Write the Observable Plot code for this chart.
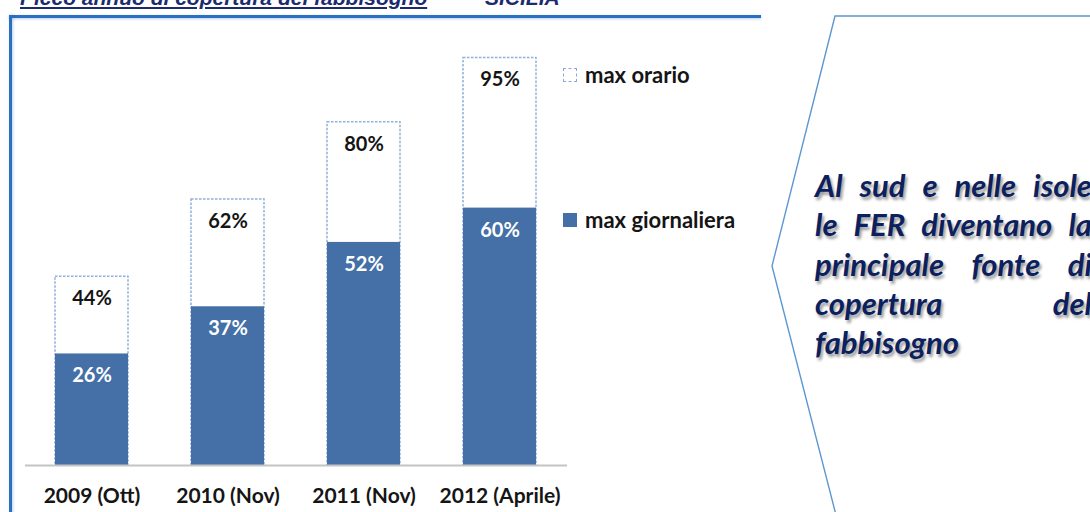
<!DOCTYPE html>
<html>
<head>
<meta charset="utf-8">
<script src="https://cdn.jsdelivr.net/npm/d3@7"></script>
<script src="https://cdn.jsdelivr.net/npm/@observablehq/plot@0.6"></script>
<style>
  html, body { margin: 0; padding: 0; background: #fff; }
  #page { position: relative; width: 1090px; height: 512px; overflow: hidden; background: #fff; font-family: Lato, "Open Sans", sans-serif; }
  .title { position: absolute; top: -13px; font: italic bold 21px/21px "Liberation Sans", Arial, sans-serif; color: #1c2b6e; white-space: nowrap; }
  #frameTop { position: absolute; left: 9px; top: 15px; width: 752px; height: 3px; background: #2a6fc0; box-shadow: 0 1px 3px rgba(42,111,192,0.35); }
  #frameLeft { position: absolute; left: 9px; top: 15px; width: 3px; height: 520px; background: #2a6fc0; box-shadow: 1px 0 3px rgba(42,111,192,0.35); }
  #chart { position: absolute; left: 0; top: 0; }
  .leg { position: absolute; left: 563px; display: flex; align-items: center; font: bold 22px Lato, sans-serif; color: #151515; white-space: nowrap; }
  .sw { width: 14px; height: 14px; margin-right: 8px; box-sizing: border-box; flex: none; }
  #panel { position: absolute; left: 0; top: 0; }
  #msg { position: absolute; left: 815px; top: 166px; width: 277px; font: italic bold 31px/39.3px Lato, sans-serif; color: #0c1f5e; text-shadow: 2px 3px 3px rgba(0,0,0,0.4); }
  #msg .ln { display: flex; justify-content: space-between; white-space: nowrap; }
  #msg .last { justify-content: flex-start; }
</style>
</head>
<body>
<div id="page">
  <div class="title" style="left:20px;text-decoration:underline;">Picco annuo di copertura del fabbisogno</div>
  <div class="title" style="left:485px;">SICILIA</div>
  <div id="frameTop"></div>
  <div id="frameLeft"></div>
  <div id="chart"></div>
  <div class="leg" style="top:61px;"><div class="sw" style="background:#fff;border:1.5px dashed #86a9d8;"></div>max orario</div>
  <div class="leg" style="top:206px;"><div class="sw" style="background:#4470a7;"></div>max giornaliera</div>
  <svg id="panel" width="1090" height="512">
    <path d="M1095,16 L835,16 L772,266 L836,515" fill="none" stroke="#5d97cf" stroke-width="1.4"/>
  </svg>
  <div id="msg"></div>
</div>
<script>
const categories = ["2009 (Ott)", "2010 (Nov)", "2011 (Nov)", "2012 (Aprile)"];
const maxOrario = [44, 62, 80, 95];
const maxGiornaliera = [26, 37, 52, 60];
const messageLines = [
  ["Al", "sud", "e", "nelle", "isole"],
  ["le", "FER", "diventano", "la"],
  ["principale", "fonte", "di"],
  ["copertura", "del"],
  ["fabbisogno"]
];

const data = categories.map((c, i) => ({cat: c, orario: maxOrario[i], giorn: maxGiornaliera[i]}));

const chart = Plot.plot({
  width: 760,
  height: 512,
  marginLeft: 25,
  marginRight: 193,
  marginTop: 36,
  marginBottom: 47,
  style: {fontFamily: "Lato, sans-serif", background: "transparent", overflow: "visible"},
  x: {domain: categories, paddingInner: 0.462, paddingOuter: 0.221, label: null},
  y: {domain: [0, 100], axis: null},
  marks: [
    Plot.barY(data, {x: "cat", y: "orario", fill: "#fff", stroke: "#8fb0da", strokeWidth: 1.5, strokeDasharray: "2.5,1.5"}),
    Plot.barY(data, {x: "cat", y: "giorn", fill: "#4470a7"}),
    Plot.ruleY([0], {stroke: "#c4c4c4", strokeWidth: 2}),
    Plot.text(data, {x: "cat", y: "orario", text: d => d.orario + "%", dy: 22, fontSize: 20, fontWeight: "bold", fill: "#141414"}),
    Plot.text(data, {x: "cat", y: "giorn", text: d => d.giorn + "%", dy: 22, fontSize: 20, fontWeight: "bold", fill: "#ffffff"}),
    Plot.axisX({tickSize: 0, tickPadding: 23, fontSize: 21, fontWeight: "bold", fill: "#151515", label: null})
  ]
});
document.getElementById("chart").appendChild(chart);

const msg = document.getElementById("msg");
messageLines.forEach((words, i) => {
  const ln = document.createElement("div");
  ln.className = "ln" + (i === messageLines.length - 1 ? " last" : "");
  words.forEach(w => { const s = document.createElement("span"); s.textContent = w; ln.appendChild(s); });
  msg.appendChild(ln);
});
</script>
</body>
</html>
